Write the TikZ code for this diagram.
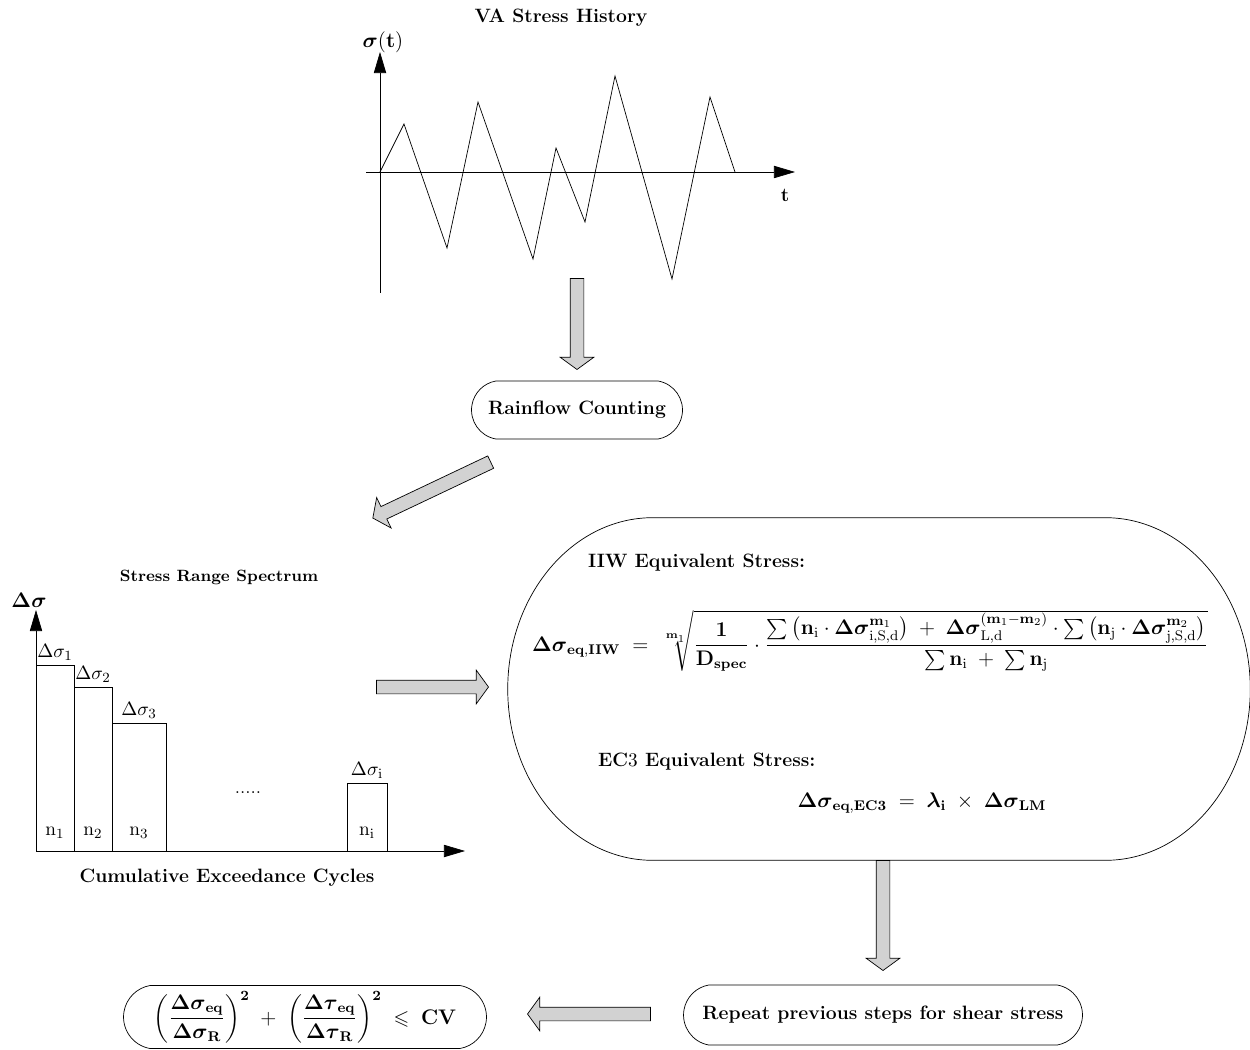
\documentclass[tikz,border=0pt]{standalone}
\usepackage{amsmath, amssymb}
\usepackage{tikz}
\usetikzlibrary{positioning, arrows.meta, shapes.misc, shapes.arrows, calc}

\tikzset{
  capsule/.style={draw, rounded rectangle, rounded rectangle arc length=160, inner sep=0pt,
    font=\fontsize{11}{13.5}\selectfont\bfseries},
  fatarrow/.style={single arrow, draw, fill=gray!35, single arrow head extend=0.2cm,
    single arrow tip angle=108, inner xsep=0pt, inner ysep=0.13cm, allow upside down},
  axis/.style={-{Triangle[length=12pt, width=7pt]}},
  heading/.style={font=\fontsize{11}{13.5}\selectfont\bfseries},
  formula/.style={font=\fontsize{11.5}{14}\selectfont}
}
% gray block arrow between two named points
\newcommand{\blockarrow}[2]{%
  \path let \p1=($(#2)-(#1)$), \n1={veclen(\x1,\y1)} in (#1) -- (#2)
    node[midway, sloped, fatarrow, minimum height=\n1] {};}
\newcommand{\bsig}{\boldsymbol{\Delta\sigma}}

\begin{document}
\begin{tikzpicture}[x=0.02cm, y=-0.02cm, font=\fontsize{11}{13.5}\selectfont]
    \useasboundingbox (0,0) rectangle (1250,1050);

    % VA stress history
    \node[heading] (vatitle) at (561,18) {VA Stress History};
    \node[formula] (sigt) at (383,42) {$\boldsymbol{\sigma}\mathbf{(t)}$};
    \draw[axis] (380,293) -- (380,52);
    \draw[axis] (366,172) -- (795,172);
    \node[heading] (tlab) at (785,195) {t};
    \draw (380,172) -- (404,124) -- (447,248) -- (478,102) -- (533,259) -- (556,148)
      -- (585,222) -- (615,76) -- (672,279) -- (710,97) -- (735,172);

    \node[capsule, minimum width=4.22cm, minimum height=1.16cm] (rainflow) at (577,410) {Rainflow Counting};

    % Stress range spectrum
    \node[font=\fontsize{9.3}{11}\selectfont\bfseries] (spectitle) at (219,577) {Stress Range Spectrum};
    \node[font=\large\bfseries] (dslab) at (29,600) {$\bsig$};
    \draw[axis] (36,851) -- (36,610);
    \draw[axis] (36,851) -- (465,851);
    \foreach \xa/\xb/\ytop/\k in {36/74/665/1, 74/112/687/2, 112/166/723/3, 347/387/783/i} {
      \draw (\xa,851) rectangle (\xb,\ytop);
      \node[above=-1pt] (ds\k) at ({(\xa+\xb)/2},\ytop) {$\Delta\sigma_{\mathrm{\k}}$};
      \node (n\k) at ({(\xa+\xb)/2},833) {$\mathrm{n}_{\mathrm{\k}}$};
    }
    \node (dots) at (248,793) {.....};
    \node[heading] (cycles) at (227,878) {Cumulative Exceedance Cycles};

    % Equivalent stress
    \node[minimum width=14.84cm, minimum height=6.84cm, inner sep=0pt] (eqbox) at (879,689) {};
    \draw ([xshift=2.9cm]eqbox.north west) -- ([xshift=-2.9cm]eqbox.north east)
      .. controls +(1.6cm,0) and +(0,1.89cm) .. (eqbox.east)
      .. controls +(0,-1.89cm) and +(1.6cm,0) .. ([xshift=-2.9cm]eqbox.south east)
      -- ([xshift=2.9cm]eqbox.south west)
      .. controls +(-1.6cm,0) and +(0,-1.89cm) .. (eqbox.west)
      .. controls +(0,1.89cm) and +(-1.6cm,0) .. cycle;
    \node[heading, anchor=west] (iiwtitle) at (582,563) {IIW Equivalent Stress:};
    \node[formula, anchor=west] (iiweq) at (526,641) {$\bsig_{\mathbf{eq,IIW}} \;=\; \sqrt[\mathbf{m}_1]{\dfrac{\mathbf{1}}{\mathbf{D}_{\mathbf{spec}}}\cdot
      \dfrac{\sum\big(\mathbf{n}_{\mathrm{i}}\cdot\bsig^{\mathbf{m}_1}_{\mathrm{i,S,d}}\big) \;+\; \bsig^{(\mathbf{m}_1-\mathbf{m}_2)}_{\mathrm{L,d}}\cdot\sum\big(\mathbf{n}_{\mathrm{j}}\cdot\bsig^{\mathbf{m}_2}_{\mathrm{j,S,d}}\big)}
      {\sum\mathbf{n}_{\mathrm{i}} \;+\; \sum\mathbf{n}_{\mathrm{j}}}}$};
    \node[heading, anchor=west] (ec3title) at (592,762) {EC$3$ Equivalent Stress:};
    \node[formula] (ec3eq) at (922,803) {$\bsig_{\mathbf{eq,EC3}} \;=\; \boldsymbol{\lambda}_{\mathbf{i}} \;\times\; \bsig_{\mathbf{LM}}$};

    \node[capsule, minimum width=7.98cm, minimum height=1.2cm] (shear) at (883,1015) {Repeat previous steps for shear stress};
    \node[capsule, formula, minimum width=7.26cm, minimum height=1.26cm] (check) at (305,1017)
      {$\left(\dfrac{\bsig_{\mathbf{eq}}}{\bsig_{\mathbf{R}}}\right)^{\mathbf{2}} \;+\; \left(\dfrac{\boldsymbol{\Delta\tau}_{\mathbf{eq}}}{\boldsymbol{\Delta\tau}_{\mathbf{R}}}\right)^{\mathbf{2}} \;\leqslant\; \mathbf{CV}$};

    % Flow arrows
    \coordinate (f1) at (577,276);  \coordinate (t1) at (577,367);
    \coordinate (f2) at (493,461);  \coordinate (t2) at (375,517);
    \coordinate (f3) at (374,687);  \coordinate (t3) at (486,687);
    \coordinate (f4) at (883,858);  \coordinate (t4) at (883,968);
    \coordinate (f5) at (653,1014); \coordinate (t5) at (530,1014);
    \foreach \k in {1,...,5} {\blockarrow{f\k}{t\k}}
\end{tikzpicture}
\end{document}
